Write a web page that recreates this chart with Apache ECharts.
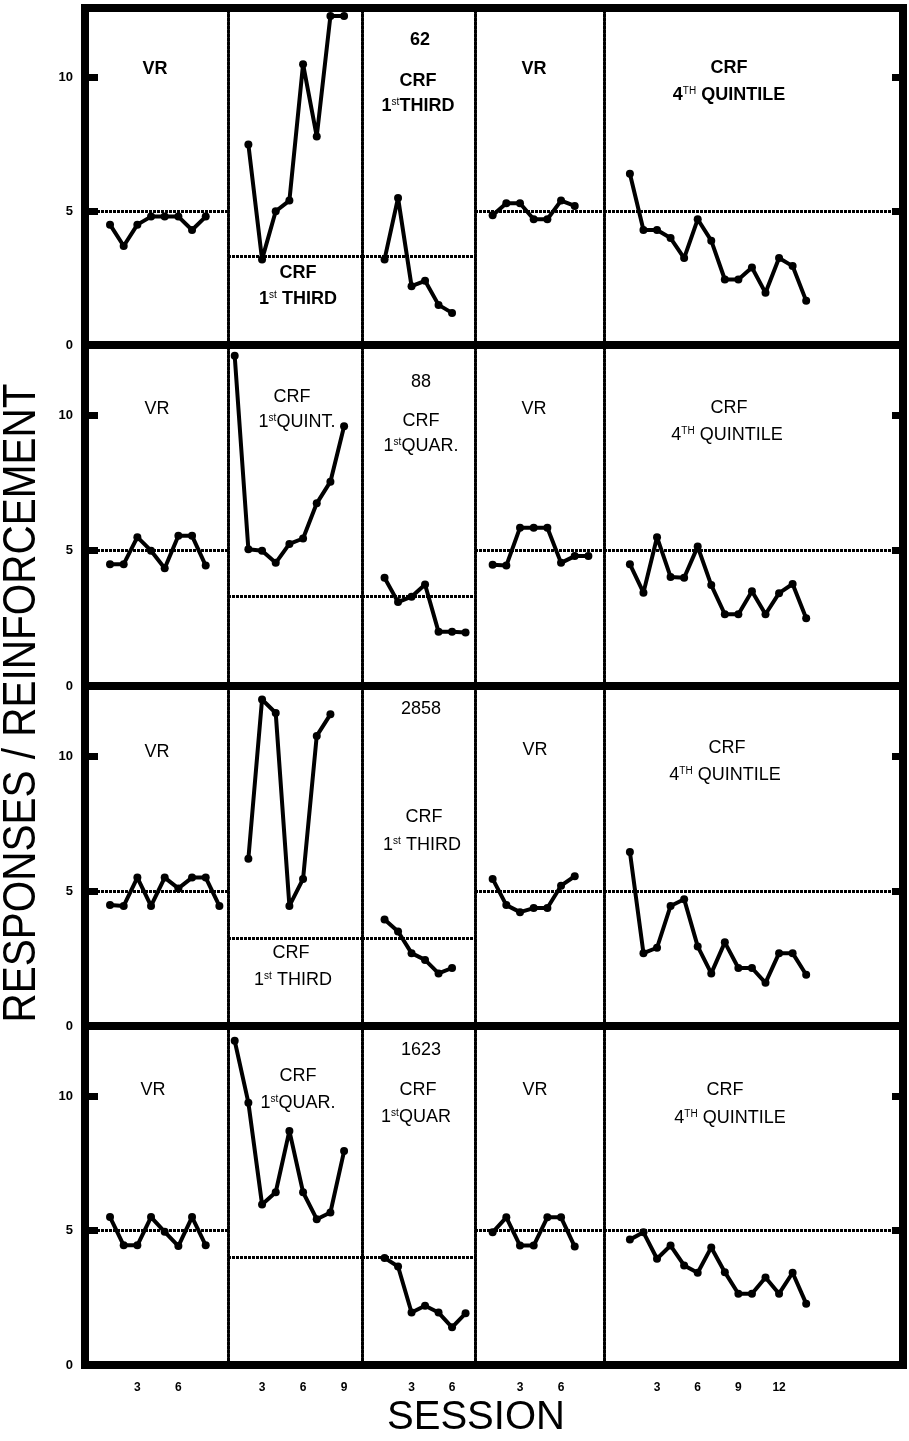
<!DOCTYPE html>
<html>
<head>
<meta charset="utf-8">
<script src="https://cdn.jsdelivr.net/npm/echarts@6/dist/echarts.min.js"></script>
<style>
  html, body { margin: 0; background: #fff; }
  #chart { width: 909px; height: 1441px; }
</style>
</head>
<body>
<div id="chart"></div>
<script>
  // 数据: 每行一只动物, 每行五个阶段 VR / CRF / CRF / VR / CRF
  // rat 62
  var r1Vr1 = [4.5, 3.7, 4.5, 4.8, 4.8, 4.8, 4.3, 4.8];
  var r1Crf1 = [7.5, 3.2, 5.0, 5.4, 10.5, 7.8, 12.3, 12.3];
  var r1Crf2 = [3.2, 5.5, 2.2, 2.4, 1.5, 1.2];
  var r1Vr2 = [4.85, 5.3, 5.3, 4.7, 4.7, 5.4, 5.2];
  var r1Crf3 = [6.4, 4.3, 4.3, 4.0, 3.25, 4.7, 3.9, 2.45, 2.45, 2.9, 1.95, 3.25, 2.95, 1.65];
  // rat 88
  var r2Vr1 = [4.5, 4.5, 5.5, 5.0, 4.35, 5.55, 5.55, 4.45];
  var r2Crf1 = [12.2, 5.05, 5.0, 4.55, 5.25, 5.45, 6.75, 7.55, 9.6];
  var r2Crf2 = [4.0, 3.1, 3.3, 3.75, 2.0, 2.0, 1.98];
  var r2Vr2 = [4.48, 4.45, 5.85, 5.85, 5.85, 4.55, 4.8, 4.8];
  var r2Crf3 = [4.5, 3.45, 5.5, 4.03, 4.0, 5.15, 3.73, 2.65, 2.65, 3.5, 2.65, 3.43, 3.77, 2.5];
  // rat 2858
  var r3Vr1 = [4.48, 4.45, 5.5, 4.45, 5.5, 5.1, 5.5, 5.5, 4.45];
  var r3Crf1 = [6.2, 12.1, 11.6, 4.45, 5.45, 10.75, 11.55];
  var r3Crf2 = [3.95, 3.5, 2.7, 2.45, 1.95, 2.15];
  var r3Vr2 = [5.45, 4.48, 4.22, 4.37, 4.37, 5.2, 5.55];
  var r3Crf3 = [6.45, 2.7, 2.9, 4.45, 4.7, 2.95, 1.95, 3.1, 2.15, 2.15, 1.6, 2.7, 2.7, 1.9];
  // rat 1623
  var r4Vr1 = [5.5, 4.45, 4.45, 5.5, 4.95, 4.42, 5.5, 4.45];
  var r4Crf1 = [12.05, 9.75, 5.97, 6.42, 8.7, 6.42, 5.42, 5.67, 7.95];
  var r4Crf2 = [3.98, 3.66, 1.95, 2.2, 1.95, 1.4, 1.92];
  var r4Vr2 = [4.93, 5.49, 4.44, 4.44, 5.49, 5.49, 4.4];
  var r4Crf3 = [4.66, 4.93, 3.95, 4.44, 3.7, 3.43, 4.37, 3.45, 2.65, 2.65, 3.25, 2.65, 3.43, 2.28];

  var rowData = [
    [r1Vr1, r1Crf1, r1Crf2, r1Vr2, r1Crf3],
    [r2Vr1, r2Crf1, r2Crf2, r2Vr2, r2Crf3],
    [r3Vr1, r3Crf1, r3Crf2, r3Vr2, r3Crf3],
    [r4Vr1, r4Crf1, r4Crf2, r4Vr2, r4Crf3]
  ];
  // 每段第一个 session
  var firstSession = [[1, 2, 1, 1, 1], [1, 1, 1, 1, 1], [1, 2, 1, 1, 1], [1, 1, 1, 1, 1]];
  // 虚线参考水平
  var refLevels = [[5, 3.3, 3.3, 5, 5], [5, 3.3, 3.3, 5, 5], [5, 3.25, 3.25, 5, 5], [5, 4, 4, 5, 5]];
  var xTicks = [[3, 6], [3, 6, 9], [3, 6], [3, 6], [3, 6, 9, 12]];
  var yTicks = [0, 5, 10];
  var yMarks = [5, 10];

  // 布局
  var FONT = '"Liberation Sans", Arial, sans-serif';
  var rowEdges = [8, 345, 686, 1026, 1365];
  var colEdges = [85, 228, 362, 475, 604, 903];
  var xRanges = [[-0.83, 9.63], [0.51, 10.31], [-0.67, 7.7], [-0.29, 9.14], [-0.91, 21.14]];
  var yMax = 12.6;
  var dotted = {color: '#000', width: 3, type: [3, 1]};

  // 文字标注 [text, x, y]
  var panelLabels = [
    [['VR', 155, 69], ['CRF', 298, 273], ['1{s|st} THIRD', 298, 299], ['62', 420, 40], ['CRF', 418, 81],
     ['1{s|st}THIRD', 418, 106], ['VR', 534, 69], ['CRF', 729, 68], ['4{s|TH} QUINTILE', 729, 95]],
    [['VR', 157, 409], ['CRF', 292, 397], ['1{s|st}QUINT.', 297, 422], ['88', 421, 382], ['CRF', 421, 421],
     ['1{s|st}QUAR.', 421, 446], ['VR', 534, 409], ['CRF', 729, 408], ['4{s|TH} QUINTILE', 727, 435]],
    [['VR', 157, 752], ['CRF', 291, 953], ['1{s|st} THIRD', 293, 980], ['2858', 421, 709], ['CRF', 424, 817],
     ['1{s|st} THIRD', 422, 845], ['VR', 535, 750], ['CRF', 727, 748], ['4{s|TH} QUINTILE', 725, 775]],
    [['VR', 153, 1090], ['CRF', 298, 1076], ['1{s|st}QUAR.', 298, 1103], ['1623', 421, 1050], ['CRF', 418, 1090],
     ['1{s|st}QUAR', 416, 1117], ['VR', 535, 1090], ['CRF', 725, 1090], ['4{s|TH} QUINTILE', 730, 1118]]
  ];

  function buildOption(useRich) {
    var grid = [], xAxis = [], yAxis = [], series = [], graphic = [];

    for (var r = 0; r < 4; r++) {
      var top = rowEdges[r];
      var h = rowEdges[r + 1] - rowEdges[r];

      // 外框 + 左右刻度
      var fg = grid.length;
      grid.push({left: colEdges[0], top: top, width: colEdges[5] - colEdges[0], height: h,
        show: true, borderColor: '#000', borderWidth: 8, backgroundColor: 'transparent'});
      xAxis.push({gridIndex: fg, type: 'value', show: false, min: 0, max: 1});
      yAxis.push({
        gridIndex: fg, type: 'value', min: 0, max: yMax, position: 'left',
        axisLine: {show: false}, splitLine: {show: false},
        axisTick: {show: true, inside: true, length: 13, customValues: yMarks, lineStyle: {color: '#000', width: 7}},
        axisLabel: {customValues: yTicks, color: '#000', fontSize: 13, fontWeight: 'bold', fontFamily: FONT, margin: 12}
      });
      yAxis.push({
        gridIndex: fg, type: 'value', min: 0, max: yMax, position: 'right',
        axisLine: {show: false}, splitLine: {show: false},
        axisTick: {show: true, inside: true, length: 11, customValues: yMarks, lineStyle: {color: '#000', width: 7}},
        axisLabel: {show: false}
      });

      for (var p = 0; p < 5; p++) {
        var gi = grid.length;
        grid.push({left: colEdges[p], top: top, width: colEdges[p + 1] - colEdges[p], height: h});
        var xi = xAxis.length;
        xAxis.push({
          gridIndex: gi, type: 'value', min: xRanges[p][0], max: xRanges[p][1],
          axisLine: {show: false}, axisTick: {show: false}, splitLine: {show: false},
          axisLabel: r === 3
            ? {customValues: xTicks[p], color: '#000', fontSize: 12, fontWeight: 'bold', fontFamily: FONT, margin: 17}
            : {show: false}
        });
        var yi = yAxis.length;
        yAxis.push({
          gridIndex: gi, type: 'value', min: 0, max: yMax, position: 'left',
          axisLine: {show: p > 0, onZero: false, lineStyle: dotted},
          axisTick: {show: false}, axisLabel: {show: false}, splitLine: {show: false}
        });

        var start = firstSession[r][p];
        var pts = [];
        rowData[r][p].forEach(function (v, i) { pts.push([start + i, v]); });
        series.push({
          type: 'line',
          xAxisIndex: xi,
          yAxisIndex: yi,
          data: pts,
          symbol: 'circle',
          symbolSize: 8,
          lineStyle: {color: '#000', width: 4},
          itemStyle: {color: '#000'},
          markLine: {
            silent: true,
            symbol: 'none',
            label: {show: false},
            lineStyle: dotted,
            data: [{yAxis: refLevels[r][p]}]
          }
        });
      }

      // 阶段标注
      panelLabels[r].forEach(function (lb) {
        var st = {
          text: useRich ? lb[0] : lb[0].replace(/\{s\|([^}]*)\}/g, '$1'),
          fill: '#000',
          font: (r === 0 ? 'bold ' : '') + '18px ' + FONT,
          align: 'center', verticalAlign: 'middle'
        };
        if (useRich) st.rich = {s: {fontSize: 10, verticalAlign: 'top'}};
        graphic.push({type: 'text', x: lb[1], y: lb[2], style: st});
      });
    }

    // 坐标轴标题
    graphic.push({
      type: 'text', x: 22, y: 703, rotation: Math.PI / 2, scaleX: 0.88,
      style: {text: 'RESPONSES / REINFORCEMENT', fill: '#000', font: '46px ' + FONT, align: 'center', verticalAlign: 'middle'}
    });
    graphic.push({
      type: 'text', x: 476, y: 1418,
      style: {text: 'SESSION', fill: '#000', font: '40px ' + FONT, align: 'center', verticalAlign: 'middle'}
    });

    return {animation: false, backgroundColor: '#fff', grid: grid, xAxis: xAxis, yAxis: yAxis, series: series, graphic: graphic};
  }

  var dom = document.getElementById('chart');
  var myChart = echarts.init(dom);
  try {
    myChart.setOption(buildOption(true));
    myChart.getZr().refreshImmediately();
  } catch (e) {
    // rich 文字失败时退回普通文字
    myChart.dispose();
    myChart = echarts.init(dom);
    myChart.setOption(buildOption(false));
  }
</script>
</body>
</html>
